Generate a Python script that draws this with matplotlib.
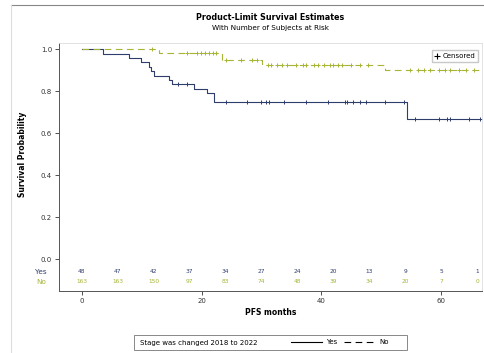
import numpy as np
import matplotlib
matplotlib.use('Agg')
import matplotlib.pyplot as plt
from matplotlib.lines import Line2D
from matplotlib.patches import Rectangle

# ── data ─────────────────────────────────────────────────────────────────────
# Yes group (stage changed): step times (months) and survival after each step
yes_times = [0, 3.5, 7.8, 9.9, 11.3, 11.6, 12.1, 14.6, 15.1, 18.7, 20.9, 22.1, 54.2]
yes_surv = [1.0, 0.979, 0.958, 0.938, 0.917, 0.896, 0.875, 0.854, 0.833, 0.813,
            0.792, 0.750, 0.667]
yes_end = 66.5
yes_censor = [16.1, 17.6, 24.0, 27.5, 29.9, 30.8, 31.3, 33.7, 37.5, 41.1, 43.9,
              44.2, 45.3, 46.4, 47.4, 50.6, 53.7, 55.7, 59.7, 60.9, 61.5, 64.7,
              66.5]

# No group
no_times = [0, 12.9, 23.4, 30.0, 30.7, 50.6]
no_surv = [1.0, 0.980, 0.948, 0.932, 0.925, 0.900]
no_end = 66.3
no_censor = [11.8, 17.6, 19.3, 19.9, 20.6, 21.2, 21.9, 22.4, 24.0, 26.6, 28.4,
             29.3, 31.1, 31.6, 32.6, 33.4, 34.3, 35.7, 36.9, 37.4, 38.7, 39.4,
             40.4, 41.4, 41.9, 42.7, 43.4, 44.9, 46.5, 47.8, 54.7, 56.1, 57.2,
             58.2, 59.7, 60.6, 61.5, 62.9, 64.2, 65.4]

# number at risk
risk_times = [0, 6, 12, 18, 24, 30, 36, 42, 48, 54, 60, 66]
risk_yes = [48, 47, 42, 37, 34, 27, 24, 20, 13, 9, 5, 1]
risk_no = [163, 163, 150, 97, 83, 74, 48, 39, 34, 20, 7, 0]

yes_color = '#2E3D6B'
no_color = '#A6B536'


def surv_at(t, times, surv):
    idx = np.searchsorted(times, t, side='right') - 1
    return np.asarray(surv)[idx]


fig = plt.figure(figsize=(4.84, 3.53), dpi=100)
ax = fig.add_axes([59 / 484, 1 - 291 / 353, 423 / 484, 248 / 353])

# ── curves ────────────────────────────────────────────────────────────────────
ax.step(list(yes_times) + [yes_end], list(yes_surv) + [yes_surv[-1]],
        where='post', color=yes_color, lw=0.8)
ax.step(list(no_times) + [no_end], list(no_surv) + [no_surv[-1]],
        where='post', color=no_color, lw=0.8, ls=(0, (6, 4)))

ax.plot(yes_censor, surv_at(yes_censor, yes_times, yes_surv), ls='none',
        marker='+', ms=3.5, mew=0.7, color=yes_color)
ax.plot(no_censor, surv_at(no_censor, no_times, no_surv), ls='none',
        marker='+', ms=3.5, mew=0.7, color=no_color)

# ── number at risk rows inside the axes ──────────────────────────────────────
for t, y, n in zip(risk_times, risk_yes, risk_no):
    ax.text(t, -0.06, str(y), ha='center', va='center', fontsize=4.2,
            color=yes_color)
    ax.text(t, -0.108, str(n), ha='center', va='center', fontsize=4.2,
            color=no_color)
ax.text(-0.03, -0.06, 'Yes', transform=ax.get_yaxis_transform(), ha='right',
        va='center', fontsize=5.2, color=yes_color)
ax.text(-0.03, -0.108, 'No', transform=ax.get_yaxis_transform(), ha='right',
        va='center', fontsize=5.2, color=no_color)

# ── axes styling ─────────────────────────────────────────────────────────────
ax.set_xlim(-3.8, 66.8)
ax.set_ylim(-0.152, 1.03)
ax.set_yticks([0.0, 0.2, 0.4, 0.6, 0.8, 1.0])
ax.set_yticklabels(['0.0', '0.2', '0.4', '0.6', '0.8', '1.0'])
ax.set_xticks([0, 20, 40, 60])
ax.tick_params(labelsize=5, length=3, width=0.6, colors='#333333', pad=2)
for side in ('top', 'right'):
    ax.spines[side].set_color('#DDDDDD')
    ax.spines[side].set_linewidth(0.6)
for side in ('left', 'bottom'):
    ax.spines[side].set_color('#555555')
    ax.spines[side].set_linewidth(0.7)

ax.set_xlabel('PFS months', fontsize=5.5, fontweight='bold', labelpad=3)
ax.set_ylabel('Survival Probability', fontsize=5.5, fontweight='bold')
ax.yaxis.set_label_coords(-0.075, 0.5 + 13 / 248)

ax.legend(handles=[Line2D([], [], ls='none', marker='+', color='black',
                          ms=4, mew=0.8)],
          labels=['Censored'], loc='upper right', fontsize=5,
          frameon=True, fancybox=False, edgecolor='#BBBBBB',
          handlelength=0.8, handletextpad=0.3, borderpad=0.4,
          bbox_to_anchor=(0.998, 0.985))

# ── titles ───────────────────────────────────────────────────────────────────
fig.text(270 / 484, 1 - 17 / 353, 'Product-Limit Survival Estimates',
         ha='center', va='center', fontsize=5.8, fontweight='bold')
fig.text(270 / 484, 1 - 28 / 353, 'With Number of Subjects at Risk',
         ha='center', va='center', fontsize=5.2)

# ── bottom legend box ────────────────────────────────────────────────────────
fig.patches.append(Rectangle((134 / 484, 1 - 350 / 353), 273 / 484, 15 / 353,
                             transform=fig.transFigure, fill=False,
                             ec='#888888', lw=0.7))
fig.text(140 / 484, 1 - 342.5 / 353, 'Stage was changed 2018 to 2022',
         ha='left', va='center', fontsize=5)
fig.legend(handles=[Line2D([], [], color='black', lw=0.8),
                    Line2D([], [], color='black', lw=0.8, ls=(0, (6, 4)))],
           labels=['Yes', 'No'], ncol=2, frameon=False, fontsize=5,
           handlelength=4.5, handletextpad=0.6, columnspacing=1.0,
           loc='center', bbox_to_anchor=(340 / 484, 1 - 342.5 / 353))

# ── outer document frame ─────────────────────────────────────────────────────
fig.add_artist(Line2D([11 / 484, 1], [1 - 5 / 353, 1 - 5 / 353],
                      transform=fig.transFigure, color='#888888', lw=0.8))
fig.add_artist(Line2D([11 / 484, 11 / 484], [0, 1 - 5 / 353],
                      transform=fig.transFigure, color='#DDDDDD', lw=0.8))

fig.savefig('out.png', dpi=100)
